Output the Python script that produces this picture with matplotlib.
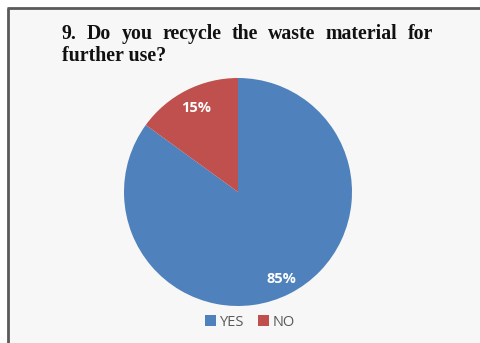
import matplotlib.pyplot as plt
from matplotlib.patches import Rectangle

labels = ['YES', 'NO']
shares = [85, 15]
colors = ['#4F81BD', '#C0504D']

title_line1 = ['9.', 'Do', 'you', 'recycle', 'the', 'waste', 'material', 'for']
title_line2 = 'further use?'

W, H = 480, 343
fig = plt.figure(figsize=(W / 100, H / 100), dpi=100)
fig.patch.set_facecolor('white')

# chart frame: dark edge on top and left, light fill
bg = fig.add_axes([0, 0, 1, 1])
bg.set_xlim(0, W)
bg.set_ylim(H, 0)
bg.axis('off')
bg.add_patch(Rectangle((8, 8), W, H, facecolor='#f7f7f7', edgecolor='none'))
bg.plot([8, 8], [H, 8], color='#5a5a5a', lw=2, solid_capstyle='butt')
bg.plot([7, W], [8, 8], color='#5a5a5a', lw=2, solid_capstyle='butt')

# justified first title line
tfont = dict(family='Liberation Serif', weight='bold', fontsize=14.3, color='#111111')
x0, x1, y1 = 62, 433, 34
renderer = fig.canvas.get_renderer()
words = [bg.text(0, y1, w, va='center', ha='left', **tfont) for w in title_line1]
widths = []
inv = bg.transData.inverted()
for t in words:
    bb = t.get_window_extent(renderer)
    a = inv.transform((bb.x0, bb.y0))
    b = inv.transform((bb.x1, bb.y1))
    widths.append(b[0] - a[0])
gap = (x1 - x0 - sum(widths)) / (len(words) - 1)
x = x0
for t, w in zip(words, widths):
    t.set_x(x)
    x += w + gap
bg.text(x0, 56, title_line2, va='center', ha='left', **tfont)

# pie
cx, cy, r = 238, 192, 114
ax = fig.add_axes([(cx - r) / W, 1 - (cy + r) / H, 2 * r / W, 2 * r / H])
wedges, texts, autotexts = ax.pie(
    shares, colors=colors, startangle=90, counterclock=False,
    autopct='%d%%', pctdistance=0.78, radius=1,
    wedgeprops=dict(linewidth=0),
    textprops=dict(color='white', fontsize=10.5, fontweight='bold', family='Open Sans'))
autotexts[0].set_position((0.38, -0.76))
autotexts[1].set_position((-0.37, 0.74))
ax.set_aspect('auto')
ax.set_xlim(-1, 1)
ax.set_ylim(-1, 1)

# legend
leg = fig.legend(wedges, labels, loc='center', bbox_to_anchor=(250 / W, 1 - 322 / H),
                 ncol=2, frameon=False, handlelength=0.75, handleheight=0.75,
                 handletextpad=0.3, columnspacing=0.9,
                 prop=dict(family='Open Sans', size=10.5))
for t in leg.get_texts():
    t.set_color('#595959')

fig.savefig('out.png', dpi=100, facecolor=fig.get_facecolor())
